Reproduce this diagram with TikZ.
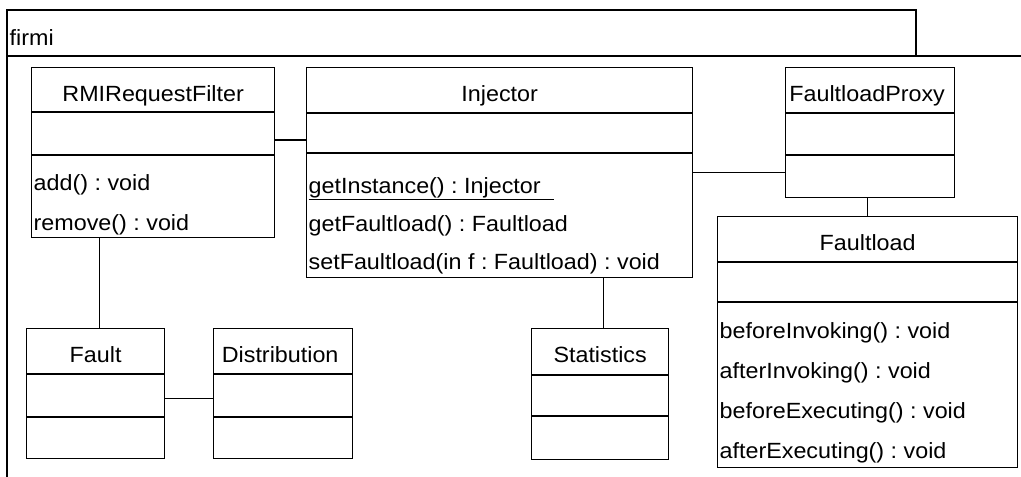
\documentclass[tikz,border=0pt]{standalone}
\usepackage{fontspec}
\setmainfont{Liberation Sans}[FakeStretch=1.06]
\usetikzlibrary{positioning, calc}
\frenchspacing

\begin{document}
\begin{tikzpicture}[x=1pt, y=-1pt, line width=1.3pt,
    classbox/.style={draw, rectangle, anchor=north west, inner sep=0pt},
    classname/.style={anchor=base, inner sep=0pt, font=\fontsize{22}{26}\selectfont},
    member/.style={anchor=base west, inner sep=0pt, font=\fontsize{22}{26}\selectfont}]
    \useasboundingbox (0,0) rectangle (1021,477);

    % Package frame
    \draw (7,477) -- (7,10) -- (916,10) -- (916,56);
    \draw (7,56) -- (1021,56);
    \node[member] (pkg) at (9,45) {firmi};

    % Classes: name/left/top/width/height/dividers
    \foreach \c/\x/\y/\w/\h/\p/\q in {filter/31/67/243/170/45/88,
        injector/306/67/386/210/46/86, proxy/785/67/169/130/46/88,
        faultload/717/216/300/251/46/86, fault/26/328/138/130/46/89,
        distribution/213/328/139/130/46/89, statistics/531/328/137/131/47/88} {
        \node[classbox, minimum width=\w pt, minimum height=\h pt] (\c) at (\x,\y) {};
        \draw ($(\c.north west)+(0,\p)$) -- ($(\c.north east)+(0,\p)$);
        \draw ($(\c.north west)+(0,\q)$) -- ($(\c.north east)+(0,\q)$);
    }

    % Class names
    \node[classname] (filtername) at ($(filter.north)+(0,34)$) {RMIRequestFilter};
    \node[classname] (injectorname) at ($(injector.north)+(0,34)$) {Injector};
    \node[classname] (proxyname) at ($(proxy.north)+(-3,34)$) {FaultloadProxy};
    \node[classname] (faultloadname) at ($(faultload.north)+(0,34)$) {Faultload};
    \node[classname] (faultname) at ($(fault.north)+(0,34)$) {Fault};
    \node[classname] (distributionname) at ($(distribution.north)+(-3,34)$) {Distribution};
    \node[classname] (statisticsname) at ($(statistics.north)+(0,34)$) {Statistics};

    % Operations
    \node[member] (add) at ($(filter.north west)+(2,123)$) {add() : void};
    \node[member] (remove) at ($(filter.north west)+(2,163)$) {remove() : void};
    \node[member] (getinstance) at ($(injector.north west)+(2,126)$) {\underline{getInstance() : Injector~~}};
    \node[member] (getfaultload) at ($(injector.north west)+(2,164)$) {getFaultload() : Faultload};
    \node[member] (setfaultload) at ($(injector.north west)+(2,202)$) {setFaultload(in f : Faultload) : void};
    \node[member] (beforeinv) at ($(faultload.north west)+(2,122)$) {beforeInvoking() : void};
    \node[member] (afterinv) at ($(faultload.north west)+(2,162)$) {afterInvoking() : void};
    \node[member] (beforeexe) at ($(faultload.north west)+(2,202)$) {beforeExecuting() : void};
    \node[member] (afterexe) at ($(faultload.north west)+(2,242)$) {afterExecuting() : void};

    % Associations
    \draw ($(filter.north east)+(0,73)$) coordinate (fi) -- (fi -| injector.west);
    \draw (injector.east) -- (injector.east -| proxy.west);
    \draw (proxy.south -| faultload.north) -- (faultload.north);
    \draw ($(fault.north)+(4,0)$) coordinate (fa) -- (fa |- filter.south);
    \draw ($(fault.east)+(0,5)$) coordinate (fd) -- (fd -| distribution.west);
    \draw ($(statistics.north)+(3,0)$) coordinate (st) -- (st |- injector.south);
\end{tikzpicture}
\end{document}
